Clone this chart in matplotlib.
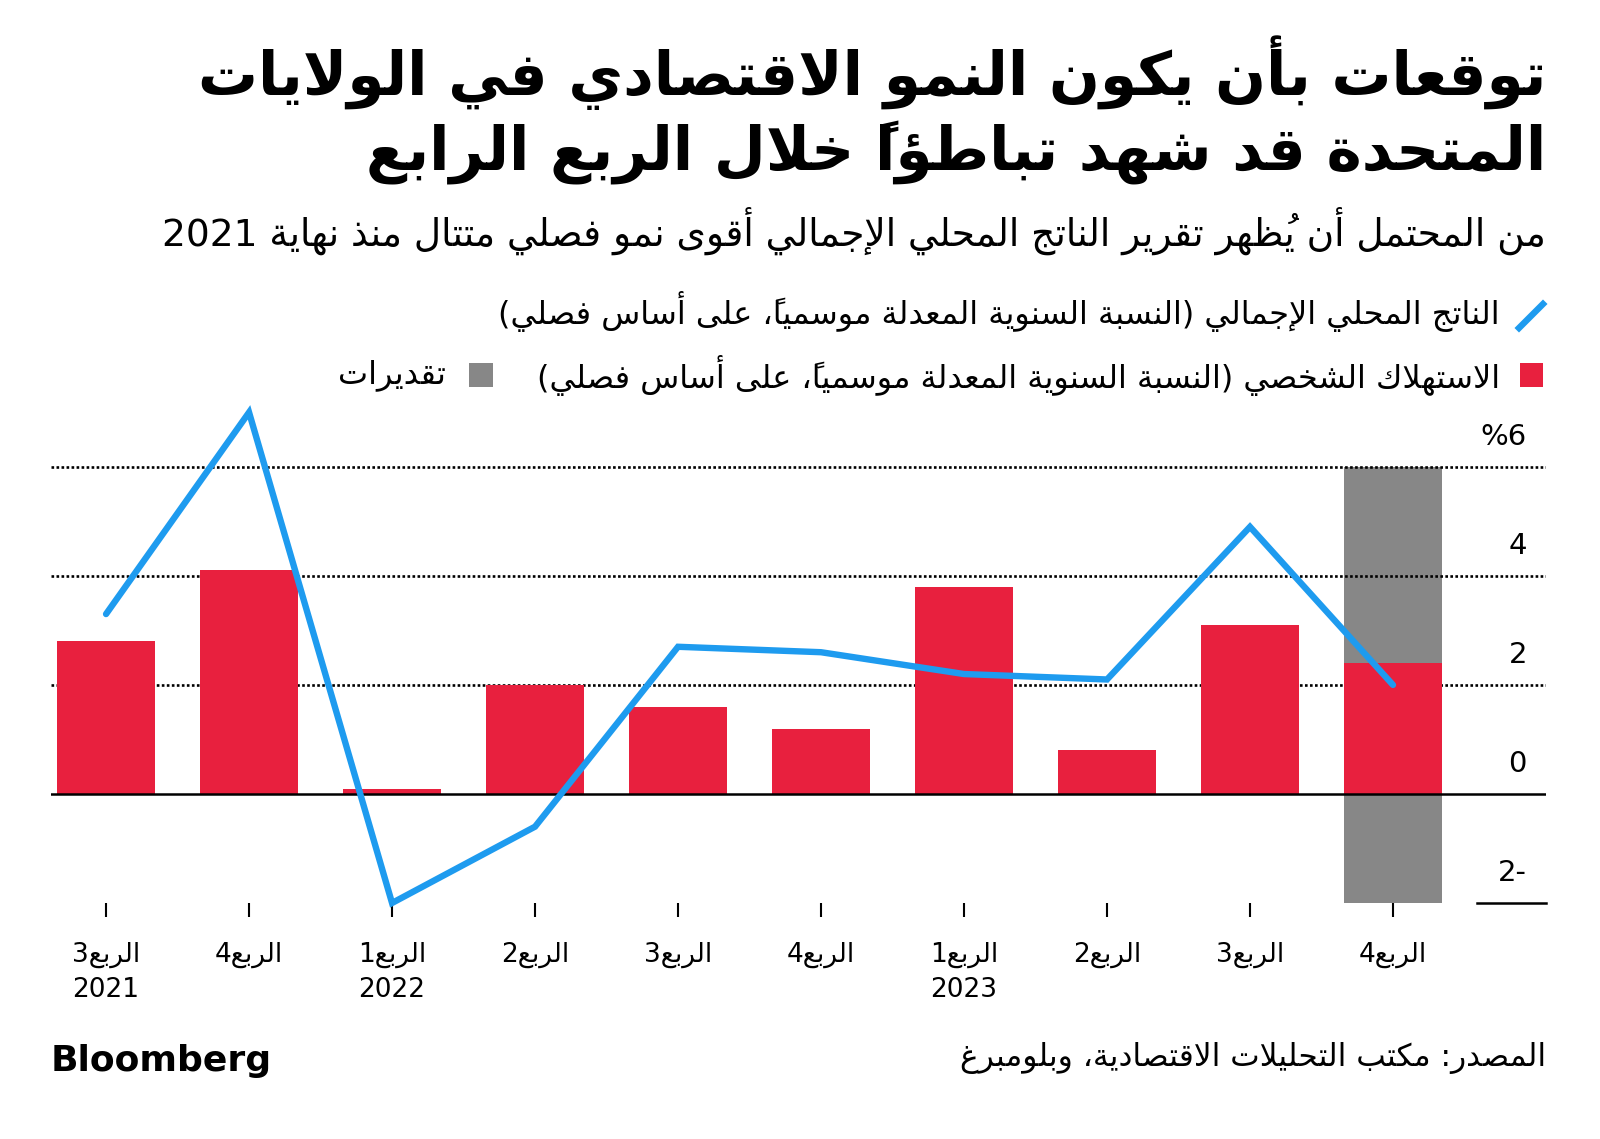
import matplotlib
matplotlib.use("Agg")
import matplotlib.pyplot as plt
import matplotlib.transforms as mtransforms
from matplotlib.lines import Line2D
from matplotlib.patches import Rectangle

# ---------------- data ----------------
quarters = ["الربع3", "الربع4", "الربع1", "الربع2", "الربع3",
            "الربع4", "الربع1", "الربع2", "الربع3", "الربع4"]
years = ["2021", "", "2022", "", "", "", "2023", "", "", ""]
gdp = [3.3, 7.0, -2.0, -0.6, 2.7, 2.6, 2.2, 2.1, 4.9, 2.0]
consumption = [2.8, 4.1, 0.1, 2.0, 1.6, 1.2, 3.8, 0.8, 3.1, 2.4]
estimate_flags = [0, 0, 0, 0, 0, 0, 0, 0, 0, 1]
estimate_low, estimate_high = -2, 6
ytick_values = [-2, 0, 2, 4, 6]
ytick_labels = ["2-", "0", "2", "4", "%6"]

title = "توقعات بأن يكون النمو الاقتصادي في الولايات\nالمتحدة قد شهد تباطؤاً خلال الربع الرابع"
subtitle = "من المحتمل أن يُظهر تقرير الناتج المحلي الإجمالي أقوى نمو فصلي متتال منذ نهاية 2021"
legend_gdp = "الناتج المحلي الإجمالي (النسبة السنوية المعدلة موسمياً، على أساس فصلي)"
legend_cons = "الاستهلاك الشخصي (النسبة السنوية المعدلة موسمياً، على أساس فصلي)"
legend_est = "تقديرات"
source = "المصدر: مكتب التحليلات الاقتصادية، وبلومبرغ"

# ---------------- minimal Arabic shaping + RTL ordering ----------------
_TAB = {}
for _c, _b, _t in [
    (0x621, 0xFE80, "U"), (0x622, 0xFE81, "R"), (0x623, 0xFE83, "R"), (0x624, 0xFE85, "R"),
    (0x625, 0xFE87, "R"), (0x626, 0xFE89, "D"), (0x627, 0xFE8D, "R"), (0x628, 0xFE8F, "D"),
    (0x629, 0xFE93, "R"), (0x62A, 0xFE95, "D"), (0x62B, 0xFE99, "D"), (0x62C, 0xFE9D, "D"),
    (0x62D, 0xFEA1, "D"), (0x62E, 0xFEA5, "D"), (0x62F, 0xFEA9, "R"), (0x630, 0xFEAB, "R"),
    (0x631, 0xFEAD, "R"), (0x632, 0xFEAF, "R"), (0x633, 0xFEB1, "D"), (0x634, 0xFEB5, "D"),
    (0x635, 0xFEB9, "D"), (0x636, 0xFEBD, "D"), (0x637, 0xFEC1, "D"), (0x638, 0xFEC5, "D"),
    (0x639, 0xFEC9, "D"), (0x63A, 0xFECD, "D"), (0x641, 0xFED1, "D"), (0x642, 0xFED5, "D"),
    (0x643, 0xFED9, "D"), (0x644, 0xFEDD, "D"), (0x645, 0xFEE1, "D"), (0x646, 0xFEE5, "D"),
    (0x647, 0xFEE9, "D"), (0x648, 0xFEED, "R"), (0x649, 0xFEEF, "R"), (0x64A, 0xFEF1, "D")]:
    _TAB[chr(_c)] = (_b, _t)
_LAMALEF = {"\u0622": 0xFEF5, "\u0623": 0xFEF7, "\u0625": 0xFEF9, "\u0627": 0xFEFB}
_MARKS = set(chr(c) for c in range(0x64B, 0x653))
_MIRROR = str.maketrans("()", ")(")


def _jt(b):
    if isinstance(b, tuple):
        return "R"
    e = _TAB.get(b)
    return e[1] if e else None


def _shape_line(s):
    toks = []
    i = 0
    while i < len(s):
        c = s[i]
        if c in _MARKS and toks:
            toks[-1][1] += c
            i += 1
            continue
        if c == "\u0644" and i + 1 < len(s) and s[i + 1] in _LAMALEF:
            toks.append([("LA", s[i + 1]), ""])
            i += 2
            continue
        toks.append([c, ""])
        i += 1
    clusters = []
    for k, (b, m) in enumerate(toks):
        t = _jt(b)
        if t is None:
            clusters.append((b + m, b.isascii() and b.isalnum()))
            continue
        prev = _jt(toks[k - 1][0]) if k > 0 else None
        nxt = _jt(toks[k + 1][0]) if k + 1 < len(toks) else None
        cp = prev == "D"
        cn = t == "D" and nxt in ("R", "D")
        if isinstance(b, tuple):
            g = chr(_LAMALEF[b[1]] + (1 if cp else 0))
        else:
            base = _TAB[b][0]
            if t == "U":
                g = chr(base)
            elif t == "R":
                g = chr(base + (1 if cp else 0))
            else:
                if cp and cn:
                    g = chr(base + 3)
                elif cp:
                    g = chr(base + 1)
                elif cn:
                    g = chr(base + 2)
                else:
                    g = chr(base)
        # zero-width marks are drawn to the right of the pen -> put them before the base
        clusters.append((m + g, False))
    runs = []
    for txt, ltr in clusters:
        if ltr and runs and runs[-1][1]:
            runs[-1][0] += txt
        else:
            runs.append([txt, ltr])
    out = []
    for txt, ltr in reversed(runs):
        out.append(txt if ltr else txt.translate(_MIRROR))
    return "".join(out)


def ar(s):
    return "\n".join(_shape_line(l) for l in s.split("\n"))


# ---------------- figure ----------------
W, H = 1600, 1139
fig = plt.figure(figsize=(W / 100, H / 100), dpi=100)
fig.patch.set_facecolor("white")


def fx(x):
    return x / W


def fy(y):
    return 1 - y / H


RED = "#e8203e"
BLUE = "#1e9bef"
GREY = "#878787"
FONT = "DejaVu Sans"

AX_L, AX_R, AX_B, AX_T = 51, 1546, 903, 396
ax = fig.add_axes([fx(AX_L), fy(AX_B), (AX_R - AX_L) / W, (AX_B - AX_T) / H])
ax.set_xlim(-0.385, 10.07)
ax.set_ylim(-2, 7.3)
for sp in ax.spines.values():
    sp.set_visible(False)
ax.set_facecolor("none")

x = list(range(len(quarters)))
bw = 0.69

# estimate band
for i, f in enumerate(estimate_flags):
    if f:
        ax.bar(i, estimate_high - estimate_low, bottom=estimate_low, width=bw,
               color=GREY, zorder=1, linewidth=0)

# grid
for v in ytick_values:
    if v > 0:
        ax.axhline(v, color="black", lw=1.9, linestyle=(0, (1, 0.9)), zorder=2)
ax.axhline(-2, xmin=(1477 - AX_L) / (AX_R - AX_L), xmax=1.0, color="black", lw=1.8,
           zorder=2, clip_on=False)

ax.bar(x, consumption, width=bw, color=RED, zorder=3, linewidth=0)
ax.axhline(0, color="black", lw=1.8, zorder=4)
ax.plot(x, gdp, color=BLUE, lw=4.6, zorder=5, solid_capstyle="round",
        solid_joinstyle="miter", clip_on=False)

# y labels
ytr = mtransforms.blended_transform_factory(ax.transAxes, ax.transData)
for v, lab in zip(ytick_values, ytick_labels):
    ax.annotate(lab, xy=((1527 - AX_L) / (AX_R - AX_L), v), xycoords=ytr,
                xytext=(0, 16), textcoords="offset points",
                ha="right", va="baseline", fontsize=21, family=FONT, color="black")
ax.set_yticks([])

# x ticks
ax.set_xticks(x)
ax.set_xticklabels([ar(q) + ("\n" + y if y else "") for q, y in zip(quarters, years)],
                   fontsize=19, family=FONT, linespacing=1.45, va="top")
ax.tick_params(axis="x", length=10, width=1.5, color="black", pad=18, labelcolor="black")

# ---------------- texts ----------------
fig.text(fx(1546), fy(110), ar(title), ha="right", va="center", fontsize=43,
         fontweight="bold", family=FONT, linespacing=1.22, color="black")
fig.text(fx(1546), fy(231), ar(subtitle), ha="right", va="center", fontsize=27,
         family=FONT, color="black")

# legend
fig.add_artist(Line2D([fx(1519), fx(1543)], [fy(328), fy(304)], color=BLUE, lw=4.6,
                      transform=fig.transFigure))
fig.text(fx(1500), fy(312), ar(legend_gdp), ha="right", va="center", fontsize=23,
         family=FONT, color="black")
fig.add_artist(Rectangle((fx(1520), fy(387)), (1543 - 1520) / W, (387 - 363) / H,
                         color=RED, transform=fig.transFigure, linewidth=0))
fig.text(fx(1500), fy(375), ar(legend_cons), ha="right", va="center", fontsize=23,
         family=FONT, color="black")
fig.add_artist(Rectangle((fx(469), fy(387)), (493 - 469) / W, (387 - 363) / H,
                         color=GREY, transform=fig.transFigure, linewidth=0))
fig.text(fx(446), fy(375), ar(legend_est), ha="right", va="center", fontsize=23,
         family=FONT, color="black")

# footer
fig.text(fx(51), fy(1061), "Bloomberg", ha="left", va="center", fontsize=26,
         fontweight="bold", family=FONT, color="black")
fig.text(fx(1546), fy(1058), ar(source), ha="right", va="center", fontsize=22.5,
         family=FONT, color="black")

fig.savefig("out.png", dpi=100, facecolor="white")
